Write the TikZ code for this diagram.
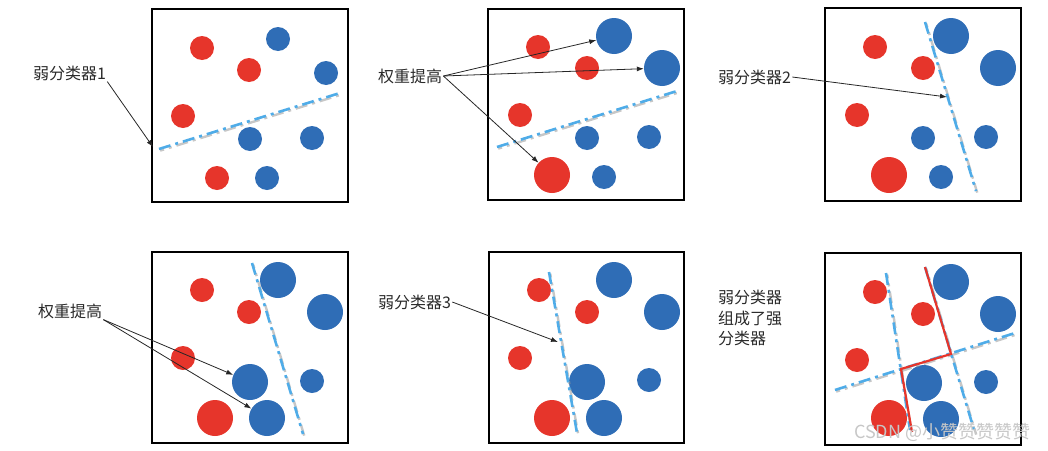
\documentclass[tikz,border=0pt]{standalone}
\usepackage{fontspec}
\newfontfamily\cjk{Noto Sans CJK SC}
\usetikzlibrary{positioning,arrows.meta}
\definecolor{dotred}{HTML}{E6352B}
\definecolor{dotblue}{HTML}{2F6DB6}
\definecolor{cutblue}{HTML}{4FACE8}
\definecolor{txtgray}{HTML}{2A2A2A}
\tikzset{dot/.style={circle,minimum size=24pt,inner sep=0pt}}
\tikzset{frame/.style={draw=black,line width=2.6pt}}
\tikzset{cut/.style={draw=cutblue,line width=2.6pt,dash pattern=on 12pt off 5pt on 3pt off 5pt}}
\tikzset{cutshade/.style={draw=black!40,line width=2.4pt,opacity=.55,dash pattern=on 12pt off 5pt on 3pt off 5pt,dash phase=8pt}}
\tikzset{lab/.style={font=\cjk\fontsize{16}{20.5}\selectfont,text=txtgray,inner sep=1pt,anchor=west}}
\tikzset{pointer/.style={->,draw=black!85,line width=0.8pt}}
\tikzset{>={Latex[length=7pt,width=5pt]}}
\newcommand\cutline[2]{\draw[cutshade] ([shift={(1.2,1.6)}]#1) -- ([shift={(1.2,1.6)}]#2); \draw[cut] (#1) -- (#2);}

\begin{document}
\begin{tikzpicture}[x=1pt,y=-1pt]
	\useasboundingbox (0,0) rectangle (1048,450);

	% frames
	\draw[frame] (152,9) rectangle (348,202);
	\draw[frame] (488,9) rectangle (684,200);
	\draw[frame] (825,8) rectangle (1021,201);
	\draw[frame] (152,252) rectangle (348,443);
	\draw[frame] (489,252) rectangle (684,443);
	\draw[frame] (825,253) rectangle (1021,445);

	% samples: name/x/y/colour/size
	\foreach \n/\x/\y/\c/\d in {r1/202/48/dotred/24, b1/278/39/dotblue/24, r2/249/70/dotred/24,
		b2/326/73/dotblue/24, r3/183/116/dotred/24, b3/250/139/dotblue/24, b4/312/138/dotblue/24,
		r4/217/178/dotred/24, b5/267/178/dotblue/24}
		\node[dot,fill=\c,minimum size=\d pt] (A\n) at (\x,\y) {};
	\foreach \n/\x/\y/\c/\d in {r1/538/47/dotred/24, b1/614/36/dotblue/36, r2/587/68/dotred/24,
		b2/662/68/dotblue/36, r3/520/115/dotred/24, b3/587/138/dotblue/24, b4/649/137/dotblue/24,
		r4/552/175/dotred/36, b5/604/177/dotblue/24}
		\node[dot,fill=\c,minimum size=\d pt] (B\n) at (\x,\y) {};
	\foreach \n/\x/\y/\c/\d in {r1/875/47/dotred/24, b1/951/36/dotblue/36, r2/923/68/dotred/24,
		b2/998/68/dotblue/36, r3/857/115/dotred/24, b3/923/138/dotblue/24, b4/986/137/dotblue/24,
		r4/889/175/dotred/36, b5/941/177/dotblue/24}
		\node[dot,fill=\c,minimum size=\d pt] (C\n) at (\x,\y) {};
	\foreach \n/\x/\y/\c/\d in {r1/202/290/dotred/24, b1/278/280/dotblue/36, r2/249/312/dotred/24,
		b2/325/312/dotblue/36, r3/183/358/dotred/24, b3/250/382/dotblue/36, b4/312/381/dotblue/24,
		r4/215/418/dotred/36, b5/267/418/dotblue/36}
		\node[dot,fill=\c,minimum size=\d pt] (D\n) at (\x,\y) {};
	\foreach \n/\x/\y/\c/\d in {r1/539/290/dotred/24, b1/614/280/dotblue/36, r2/587/312/dotred/24,
		b2/662/312/dotblue/36, r3/520/358/dotred/24, b3/587/382/dotblue/36, b4/649/380/dotblue/24,
		r4/552/418/dotred/36, b5/604/418/dotblue/36}
		\node[dot,fill=\c,minimum size=\d pt] (E\n) at (\x,\y) {};
	\foreach \n/\x/\y/\c/\d in {r1/875/292/dotred/24, b1/951/282/dotblue/36, r2/923/314/dotred/24,
		b2/998/314/dotblue/36, r3/857/360/dotred/24, b3/924/383/dotblue/36, b4/986/382/dotblue/24,
		r4/889/418/dotred/36, b5/941/419/dotblue/36}
		\node[dot,fill=\c,minimum size=\d pt] (F\n) at (\x,\y) {};

	% weak classifiers
	\coordinate (A1) at (159,149); \coordinate (A2) at (340,93);
	\coordinate (B1) at (497,147); \coordinate (B2) at (677,91);
	\coordinate (C1) at (925,22);  \coordinate (C2) at (976,191);
	\coordinate (D1) at (252,263); \coordinate (D2) at (303,434);
	\coordinate (E1) at (549,272); \coordinate (E2) at (577,433);
	\coordinate (F1) at (835,390); \coordinate (F2) at (1015,333);
	\coordinate (F3) at (886,273); \coordinate (F4) at (910,430);
	\coordinate (F5) at (925,267); \coordinate (F6) at (975,433);
	\cutline{A1}{A2}
	\cutline{B1}{B2}
	\cutline{C1}{C2}
	\cutline{D1}{D2}
	\cutline{E1}{E2}
	\cutline{F1}{F2}
	\cutline{F3}{F4}
	\cutline{F5}{F6}

	% strong classifier
	\coordinate (S1) at (925,267); \coordinate (S2) at (951,354);
	\coordinate (S3) at (901,369); \coordinate (S4) at (912,432);
	\draw[dotred,line width=2.2pt,line join=miter] (S1) -- (S2) -- (S3) -- (S4);

	% labels
	\node[lab] (Alab) at (32,73) {弱分类器1};
	\node[lab] (Blab) at (377,76) {权重提高};
	\node[lab] (Clab) at (717,77) {弱分类器2};
	\node[lab] (Dlab) at (37,311) {权重提高};
	\node[lab] (Elab) at (377,302) {弱分类器3};
	\node[lab,align=left] (Flab) at (717,318) {弱分类器\\组成了强\\分类器};
	\node[lab,font=\cjk\fontsize{18}{20}\selectfont,text=black!22] (mark) at (853,432) {CSDN @小赞赞赞赞赞};

	% pointers
	\coordinate (Ahit) at (153,147);
	\coordinate (Chit) at (947,97);
	\coordinate (Ehit) at (558,342);
	\draw[pointer] (Alab.south east) -- (Ahit);
	\draw[pointer] (Blab.east) -- (Bb1);
	\draw[pointer] (Blab.east) -- (Bb2);
	\draw[pointer] (Blab.east) -- (Br4);
	\draw[pointer] (Clab.east) -- (Chit);
	\draw[pointer] (Dlab.south east) -- (Db3);
	\draw[pointer] (Dlab.south east) -- (Db5);
	\draw[pointer] (Elab.east) -- (Ehit);
\end{tikzpicture}
\end{document}
